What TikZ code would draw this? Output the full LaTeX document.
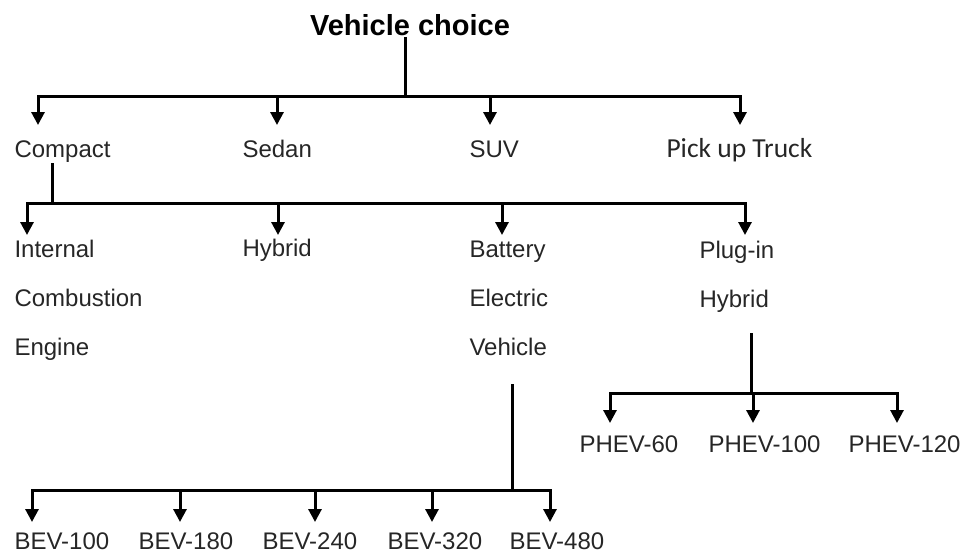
\documentclass[tikz,border=0pt]{standalone}
\usepackage{fontspec}
\setmainfont{Liberation Sans}
\newfontfamily\truckfont{Carlito}
\usepackage{tikz}
\usetikzlibrary{arrows.meta}
\usetikzlibrary{calc}
\begin{document}
\begin{tikzpicture}[x=1pt,y=-1pt,>={Triangle[width=13pt,length=13pt]},line width=3pt,
	lbl/.style={anchor=base west,inner sep=0pt,text=black!85,font=\fontsize{24}{49}\selectfont},
	mlbl/.style={lbl,anchor=north west,align=left}]
			\useasboundingbox(0,0)rectangle(969,554);
			\node[anchor=base,inner sep=0pt,font=\bfseries\fontsize{29}{29}\selectfont](vc)at(410,35){Vehicle choice};
			\node[lbl](compact)at(13,157){Compact};
			\node[lbl](sedan)at(241,157){Sedan};
			\node[lbl](suv)at(468,157){SUV};
			\node[lbl,font=\truckfont\fontsize{27.5}{27.5}\selectfont](truck)at(665,157){Pick up Truck};
			\node[mlbl](ice)at(13,239){Internal\\Combustion\\Engine};
			\node[lbl](hybrid)at(241,256){Hybrid};
			\node[mlbl](bev)at(468,239){Battery\\Electric\\Vehicle};
			\node[mlbl](phev)at(698,240){Plug-in\\Hybrid};
			\node[lbl](phev60)at(578,452){PHEV-60};
			\node[lbl](phev100)at(707,452){PHEV-100};
			\node[lbl](phev120)at(847,452){PHEV-120};
			\node[lbl](bev100)at(13,549){BEV-100};
			\node[lbl](bev180)at(137,549){BEV-180};
			\node[lbl](bev240)at(261,549){BEV-240};
			\node[lbl](bev320)at(386,549){BEV-320};
			\node[lbl](bev480)at(508,549){BEV-480};
			\coordinate(j0)at(405,96);
			\coordinate(j1)at(52,203);
			\coordinate(p0)at(751,333);
			\coordinate(j2)at(751,393);
			\coordinate(b0)at(512,384);
			\coordinate(j3)at(512,490);
			\draw(j0|-vc.south)--(j0);
			\draw[->](j0)-|(38,125)coordinate(tcompact);
			\draw[->](j0)-|(277,125)coordinate(tsedan);
			\draw[->](j0)-|(490,125)coordinate(tsuv);
			\draw[->](j0)-|(740,125)coordinate(ttruck);
			\draw(j1|-compact.south)--(j1);
			\draw[->](j1)-|(27,235)coordinate(tice);
			\draw[->](j1)-|(278,235)coordinate(thybrid);
			\draw[->](j1)-|(502,235)coordinate(tbev);
			\draw[->](j1)-|(745,235)coordinate(tphev);
			\draw(p0)--(j2);
			\draw[->](j2)-|(610,423)coordinate(tphev60);
			\draw[->](j2)-|(753,423)coordinate(tphev100);
			\draw[->](j2)-|(897,423)coordinate(tphev120);
			\draw(b0)--(j3);
			\draw[->](j3)-|(32,522)coordinate(tbev100);
			\draw[->](j3)-|(180,522)coordinate(tbev180);
			\draw[->](j3)-|(315,522)coordinate(tbev240);
			\draw[->](j3)-|(432,522)coordinate(tbev320);
			\draw[->](j3)-|(550,522)coordinate(tbev480);
		\end{tikzpicture}
\end{document}
